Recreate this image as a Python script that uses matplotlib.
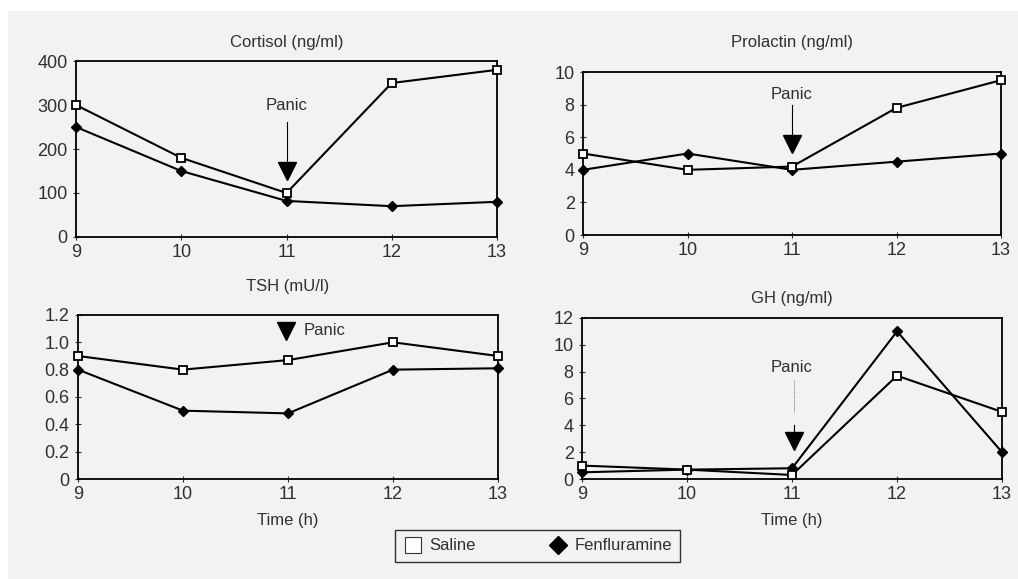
import matplotlib
matplotlib.use("Agg")
import matplotlib.pyplot as plt
from matplotlib.patches import Rectangle
from matplotlib.lines import Line2D

plt.rcParams['font.family'] = ['Liberation Sans', 'DejaVu Sans']

# ---------------------
# DATA
# ---------------------
hours = [9, 10, 11, 12, 13]

cortisol_saline = [300, 180, 100, 350, 380]
cortisol_fen = [250, 150, 82, 70, 80]

prolactin_saline = [5.0, 4.0, 4.2, 7.8, 9.5]
prolactin_fen = [4.0, 5.0, 4.0, 4.5, 5.0]

tsh_saline = [0.9, 0.8, 0.87, 1.0, 0.9]
tsh_fen = [0.8, 0.5, 0.48, 0.8, 0.81]

gh_saline = [1.0, 0.7, 0.3, 7.7, 5.0]
gh_fen = [0.5, 0.7, 0.8, 11.0, 2.0]

titles = ['Cortisol (ng/ml)', 'Prolactin (ng/ml)', 'TSH (mU/l)', 'GH (ng/ml)']
yticks = [[0, 100, 200, 300, 400],
          [0, 2, 4, 6, 8, 10],
          [0, 0.2, 0.4, 0.6, 0.8, 1.0, 1.2],
          [0, 2, 4, 6, 8, 10, 12]]
ytick_labels = [None, None, ['0', '0.2', '0.4', '0.6', '0.8', '1.0', '1.2'], None]

bg = '#f2f2f2'
txt = '#303030'
W, H = 1018, 579

fig = plt.figure(figsize=(W / 100, H / 100), dpi=100, facecolor='white')
fig.patches.append(Rectangle((8 / W, 0), 1 - 8 / W, (H - 11) / H,
                             transform=fig.transFigure, facecolor=bg,
                             edgecolor='none', zorder=-10))

positions = [
    [0.0747, 0.5907, 0.4135, 0.3039],
    [0.5727, 0.5941, 0.4106, 0.2815],
    [0.0766, 0.1727, 0.4126, 0.2833],
    [0.5717, 0.1727, 0.4126, 0.2781],
]
title_y_px = [43, 42, 287, 299]
series = [(cortisol_saline, cortisol_fen), (prolactin_saline, prolactin_fen),
          (tsh_saline, tsh_fen), (gh_saline, gh_fen)]

axes = []
for i, pos in enumerate(positions):
    ax = fig.add_axes(pos)
    ax.set_facecolor(bg)
    sal, fen = series[i]
    ax.plot(hours, fen, color='black', lw=1.5, marker='D', ms=5.5,
            mfc='black', mec='black', zorder=3, clip_on=False)
    ax.plot(hours, sal, color='black', lw=1.5, marker='s', ms=6,
            mfc='white', mec='black', mew=1.3, zorder=4, clip_on=False)
    ax.set_xlim(9, 13)
    ax.set_ylim(yticks[i][0], yticks[i][-1])
    ax.set_xticks(hours)
    ax.set_yticks(yticks[i])
    if ytick_labels[i] is not None:
        ax.set_yticklabels(ytick_labels[i])
    ax.tick_params(direction='inout', length=4, width=0.8, labelsize=13,
                   colors=txt)
    ax.tick_params(axis='x', pad=3)
    ax.tick_params(axis='y', pad=4)
    for s in ax.spines.values():
        s.set_linewidth(1.3)
    # titles sit at different heights above each panel
    fig.text(pos[0] + pos[2] / 2, 1 - title_y_px[i] / H, titles[i],
             ha='center', va='center', fontsize=12, color=txt)
    axes.append(ax)

for ax in axes[2:]:
    ax.set_xlabel('Time (h)', fontsize=12, color=txt, labelpad=7)

# ---------------------
# PANIC MARKERS
# ---------------------
ax = axes[0]
ax.text(11, 300, 'Panic', ha='center', va='center', fontsize=12, color=txt)
ax.plot([11, 11], [262, 150], color='black', lw=0.8)
ax.plot(11, 150, marker='v', ms=13, color='black', clip_on=False)

ax = axes[1]
ax.text(11, 8.6, 'Panic', ha='center', va='center', fontsize=12, color=txt)
ax.plot([11, 11], [8.0, 5.8], color='black', lw=0.8)
ax.plot(11, 5.6, marker='v', ms=13, color='black')

ax = axes[2]
ax.plot(10.98, 1.085, marker='v', ms=13, color='black')
ax.text(11.15, 1.085, 'Panic', ha='left', va='center', fontsize=12, color=txt)

ax = axes[3]
ax.text(11, 8.3, 'Panic', ha='center', va='center', fontsize=12, color=txt)
ax.plot([11.02, 11.02], [7.4, 4.9], color='#777777', lw=0.7, ls=(0, (1, 1)))
ax.plot([11.02, 11.02], [4.0, 3.2], color='black', lw=0.8)
ax.plot(11.02, 2.8, marker='v', ms=13, color='black')

# ---------------------
# LEGEND
# ---------------------
handles = [
    Line2D([], [], ls='none', marker='s', ms=11, mfc='white', mec='#333333', mew=0.8),
    Line2D([], [], ls='none', marker='D', ms=9, mfc='black', mec='black'),
]
leg = fig.legend(handles, ['Saline', 'Fenfluramine'], loc='center',
                 bbox_to_anchor=(537.5 / W, 1 - 546 / H), ncol=2, frameon=True,
                 fancybox=False, fontsize=12, columnspacing=4.3,
                 handletextpad=0.4, handlelength=1.2, borderpad=0.5,
                 labelcolor=txt)
leg.get_frame().set_edgecolor('black')
leg.get_frame().set_linewidth(1.0)
leg.get_frame().set_facecolor(bg)

fig.savefig('out.png', dpi=100, facecolor=fig.get_facecolor())
